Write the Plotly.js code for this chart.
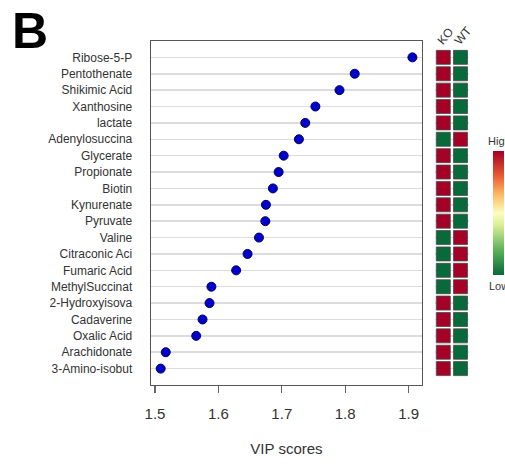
<!DOCTYPE html>
<html>
<head>
<meta charset="utf-8">
<script src="https://cdn.plot.ly/plotly-3.0.1.min.js"></script>
<style>html,body{margin:0;padding:0;background:#fff;}#chart{width:505px;height:469px;}</style>
</head>
<body>
<div id="chart"></div>
<script>
// Metabolites, top to bottom
const metabolites = ["Ribose-5-P","Pentothenate","Shikimic Acid","Xanthosine","lactate","Adenylosuccina","Glycerate","Propionate","Biotin","Kynurenate","Pyruvate","Valine","Citraconic Aci","Fumaric Acid","MethylSuccinat","2-Hydroxyisova","Cadaverine","Oxalic Acid","Arachidonate","3-Amino-isobut"];
// VIP scores
const vipScores = [1.906,1.815,1.791,1.753,1.737,1.727,1.703,1.695,1.686,1.675,1.674,1.664,1.646,1.628,1.589,1.586,1.575,1.565,1.517,1.509];
// Relative level per group (1 = high, 0 = low)
const koLevel = [1,1,1,1,1,0,1,1,1,1,1,0,0,0,0,1,1,1,1,1];
const wtLevel = [0,0,0,0,0,1,0,0,0,0,0,1,1,1,1,0,0,0,0,0];
const groups = ["KO","WT"];
const xTicks = [1.5,1.6,1.7,1.8,1.9];

const scale = [[0,'#08693a'],[0.2,'#5cb25a'],[0.4,'#d8ee96'],[0.5,'#fdfdbf'],[0.65,'#fdb863'],[0.8,'#ea5a32'],[1,'#a50026']];

const hx = [], hy = [], hz = [];
metabolites.forEach((m,i)=>{
  hx.push(groups[0]); hy.push(m); hz.push(koLevel[i]);
  hx.push(groups[1]); hy.push(m); hz.push(wtLevel[i]);
});

const txtColor = '#333333';
const font = {family:'"Liberation Sans", Arial, sans-serif', color: txtColor};

const traces = [
  {
    type:'scatter', mode:'markers', x: vipScores, y: metabolites,
    xaxis:'x', yaxis:'y',
    marker:{size:9, color:'#0000cd', line:{color:'#00005a', width:1}},
    hoverinfo:'x+y', showlegend:false
  },
  {
    type:'scatter', mode:'markers', x: hx, y: hy,
    xaxis:'x2', yaxis:'y',
    marker:{symbol:'square', size:14, color: hz, cmin:0, cmax:1, colorscale: scale,
      line:{color:'#4a4a4a', width:0.8},
      showscale:true,
      colorbar:{x:0.9756, xanchor:'left', xpad:0, ypad:0, thickness:11, thicknessmode:'pixels',
        len:124, lenmode:'pixels', y:0.545, yanchor:'middle', outlinewidth:0,
        showticklabels:false, ticks:''}
    },
    showlegend:false, hoverinfo:'x+y'
  }
];

const layout = {
  width:505, height:469,
  margin:{l:0,r:0,t:0,b:0},
  paper_bgcolor:'#fff', plot_bgcolor:'#fff',
  font: font,
  showlegend:false,
  xaxis:{
    domain:[0.299,0.8356], range:[1.4937,1.9211],
    tickvals:xTicks, ticktext:xTicks.map(v=>v.toFixed(1)),
    ticks:'outside', ticklen:7, tickwidth:1.3, tickcolor:'#666',
    ticklabelstandoff:8,
    showgrid:false, zeroline:false,
    showline:true, mirror:true, linecolor:'#555', linewidth:1.3,
    tickfont:{size:15, color:txtColor},
    title:{text:'VIP scores', font:{size:15, color:txtColor}, standoff:22},
    anchor:'y'
  },
  yaxis:{
    domain:[0.1791,0.9126],
    type:'category', categoryorder:'array', categoryarray: metabolites,
    range:[20,-1],
    showgrid:true, gridcolor:'#dcdcdc', gridwidth:1.5,
    ticks:'', ticklabelstandoff:15,
    showline:true, mirror:true, linecolor:'#555', linewidth:1.3,
    zeroline:false,
    tickfont:{size:12, color:txtColor},
    anchor:'x'
  },
  xaxis2:{
    domain:[0.8608,0.9289], range:[-0.5,1.5],
    type:'category', categoryorder:'array', categoryarray: groups,
    side:'top', anchor:'free', position:1-50/469, showgrid:false, zeroline:false, showline:false,
    ticks:'', tickangle:-50, ticklabelshift:-5,
    tickfont:{size:12, color:txtColor}
  },
  annotations:[
    {text:'<b>B</b>', xref:'paper', yref:'paper', x:10/505, y:1-1/469, xanchor:'left', yanchor:'top',
     showarrow:false, font:{size:50, color:'#000', family:'"Liberation Sans", Arial, sans-serif'}},
    {text:'High', xref:'paper', yref:'paper', x:486/505, y:1-141/469, xanchor:'left', yanchor:'middle',
     showarrow:false, font:{size:11, color:txtColor}},
    {text:'Low', xref:'paper', yref:'paper', x:487/505, y:1-286/469, xanchor:'left', yanchor:'middle',
     showarrow:false, font:{size:11, color:txtColor}}
  ]
};

Plotly.newPlot('chart', traces, layout, {displayModeBar:false, staticPlot:true});
</script>
</body>
</html>
